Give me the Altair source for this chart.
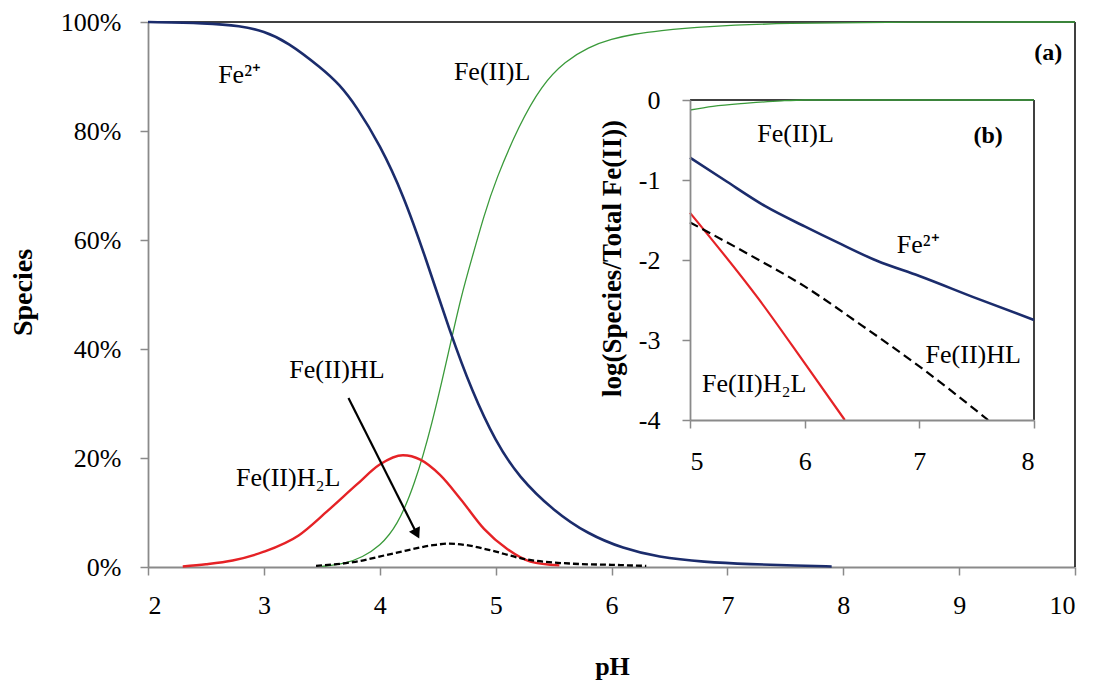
import altair as alt
import pandas as pd

SERIF = "Liberation Serif"
GRAY = "#8a8a8a"
NAVY = "#1b2c6c"
GREEN = "#3a9a3a"
RED = "#e52226"

# ---------------- main chart: % of total Fe(II) vs pH ----------------
ph_fe2 = [2.0, 2.5, 2.8, 3.0, 3.2, 3.5, 3.65, 3.8, 4.0, 4.2, 4.4, 4.6, 4.8, 5.0, 5.2, 5.5, 5.8, 6.1, 6.4, 6.8, 7.2, 7.6, 7.9]
pct_fe2 = [100, 99.8, 99.3, 98.3, 96.4, 91.5, 88.6, 84.5, 77.5, 68.5, 56.5, 43.5, 32.0, 23.0, 16.5, 10.3, 6.0, 3.4, 1.8, 0.9, 0.5, 0.25, 0.1]

ph_l = [3.5, 3.7, 3.85, 4.0, 4.15, 4.3, 4.45, 4.6, 4.7, 4.8, 4.9, 5.0, 5.2, 5.4, 5.6, 5.8, 6.0, 6.2, 6.4, 6.8, 7.5, 8.5, 10.0]
pct_l = [0.1, 0.6, 1.8, 3.8, 7.5, 15.0, 26.0, 40.0, 49.5, 57.0, 64.5, 71.0, 81.0, 88.5, 92.8, 95.4, 96.9, 97.8, 98.4, 99.2, 99.8, 100, 100]

ph_h2l = [2.3, 2.5, 2.73, 3.0, 3.3, 3.55, 3.8, 4.0, 4.2, 4.35, 4.52, 4.7, 4.9, 5.1, 5.3, 5.55]
pct_h2l = [0.1, 0.5, 1.2, 2.8, 5.8, 10.3, 15.1, 18.8, 20.5, 19.7, 16.9, 12.4, 7.0, 3.3, 1.0, 0.3]

ph_hl = [3.45, 3.77, 4.12, 4.46, 4.6, 4.75, 4.95, 5.24, 5.67, 6.0, 6.3]
pct_hl = [0.2, 0.9, 2.5, 4.0, 4.3, 4.0, 3.1, 1.5, 0.6, 0.4, 0.2]

main_x_ticks = [2, 3, 4, 5, 6, 7, 8, 9, 10]
main_y_ticks = [0, 20, 40, 60, 80, 100]

main_labels = ["Fe²⁺", "Fe(II)L", "Fe(II)HL", "Fe(II)H₂L"]
main_label_ph = [2.79, 4.97, 3.63, 3.21]
main_label_pct = [90.3, 90.8, 36.1, 16.3]

arrow_ph = [3.73, 4.32]
arrow_pct = [31.0, 6.1]
arrow_angle = [153]

# ---------------- inset: log(species / total Fe(II)) ----------------
in_ph_fe2 = [5.0, 5.3, 5.66, 6.0, 6.3, 6.63, 7.0, 7.5, 8.0]
in_log_fe2 = [-0.72, -1.0, -1.33, -1.58, -1.79, -2.01, -2.2, -2.48, -2.75]

in_ph_l = [5.0, 5.2, 5.5, 5.8, 6.0, 8.0]
in_log_l = [-0.125, -0.08, -0.04, -0.01, 0.0, 0.0]

in_ph_h2l = [5.0, 5.6, 6.0, 6.35]
in_log_h2l = [-1.41, -2.49, -3.29, -4.0]

in_ph_hl = [5.0, 5.5, 6.0, 6.5, 7.0, 7.6]
in_log_hl = [-1.53, -1.92, -2.33, -2.82, -3.33, -4.0]

in_x_ticks = [5, 6, 7, 8]
in_y_ticks = [-4, -3, -2, -1, 0]

in_labels = ["Fe(II)L", "Fe²⁺", "Fe(II)HL", "Fe(II)H₂L"]
in_label_ph = [5.92, 6.99, 7.47, 5.56]
in_label_log = [-0.43, -1.81, -3.19, -3.55]

# ---------------- scales / axes ----------------
mx = alt.X("ph:Q", scale=alt.Scale(domain=[2, 10], nice=False, zero=False),
           axis=alt.Axis(values=main_x_ticks, grid=False, labelFont=SERIF, labelFontSize=26,
                         labelColor="black", labelPadding=17, tickSize=8, tickColor=GRAY,
                         tickWidth=1.5, domainColor=GRAY, domainWidth=1.8, title="pH",
                         titleFont=SERIF, titleFontSize=26, titleFontWeight="bold",
                         titleColor="black", titleX=464, titleY=99, titleAlign="center",
                         titleBaseline="middle", orient="bottom"))
my = alt.Y("pct:Q", scale=alt.Scale(domain=[0, 100], nice=False),
           axis=alt.Axis(values=main_y_ticks, grid=False, labelExpr="datum.value + '%'",
                         labelFont=SERIF, labelFontSize=26, labelColor="black",
                         labelPadding=19, tickSize=8, tickColor=GRAY, tickWidth=1.5,
                         domainColor=GRAY, domainWidth=1.8, title="Species",
                         titleFont=SERIF, titleFontSize=28, titleFontWeight="bold",
                         titleColor="black", titleAngle=270, titleX=-125, titleY=270,
                         titleAlign="center", titleBaseline="middle", orient="left"))
mx2 = alt.X2("ph2:Q")
my2 = alt.Y2("pct2:Q")

ix = alt.X("ph:Q", scale=alt.Scale(domain=[5, 8], range=[542, 886], nice=False, zero=False),
           axis=alt.Axis(values=in_x_ticks, grid=False, orient="bottom", offset=-147,
                         labelFont=SERIF, labelFontSize=26, labelColor="black",
                         labelPadding=20, tickSize=8, tickColor=GRAY, tickWidth=1.5,
                         domainColor=GRAY, domainWidth=1.8, title=None, zindex=1))
iy = alt.Y("lg:Q", scale=alt.Scale(domain=[-4, 0], range=[398, 78], nice=False, zero=False),
           axis=alt.Axis(values=in_y_ticks, grid=False, orient="left", offset=-542,
                         labelExpr="'' + datum.value",
                         labelFont=SERIF, labelFontSize=26, labelColor="black",
                         labelPadding=22, tickSize=8, tickColor=GRAY, tickWidth=1.5,
                         domainColor=GRAY, domainWidth=1.8,
                         title="log(Species/Total Fe(II))", titleFont=SERIF,
                         titleFontSize=27, titleFontWeight="bold", titleColor="black",
                         titleAngle=270, titleX=-78, titleY=236, titleAlign="center",
                         titleBaseline="middle", zindex=1))
ix2 = alt.X2("ph2:Q")
iy2 = alt.Y2("lg2:Q")


def main_line(ph, pct, color, width, dash=None, interp="monotone"):
    df = pd.DataFrame({"ph": ph, "pct": pct})
    kw = dict(color=color, strokeWidth=width, interpolate=interp)
    if dash:
        kw["strokeDash"] = dash
    return alt.Chart(df).mark_line(**kw).encode(x=mx, y=my)


def inset_line(ph, lg, color, width, dash=None):
    df = pd.DataFrame({"ph": ph, "lg": lg})
    kw = dict(color=color, strokeWidth=width, interpolate="monotone", clip=False)
    if dash:
        kw["strokeDash"] = dash
    return alt.Chart(df).mark_line(**kw).encode(x=ix, y=iy)


# main frame (top and right borders)
frame_top = alt.Chart(pd.DataFrame({"ph": [main_x_ticks[0]], "ph2": [main_x_ticks[-1]],
                                    "pct": [main_y_ticks[-1]]})).mark_rule(
    color="black", strokeWidth=1.5).encode(x=mx, x2=mx2, y=my)
frame_right = alt.Chart(pd.DataFrame({"ph": [main_x_ticks[-1]], "pct": [main_y_ticks[0]],
                                      "pct2": [main_y_ticks[-1]]})).mark_rule(
    color="black", strokeWidth=1.5).encode(x=mx, y=my, y2=my2)

main_text = alt.Chart(pd.DataFrame({"ph": main_label_ph, "pct": main_label_pct,
                                    "t": main_labels})).mark_text(
    font=SERIF, fontSize=26, color="black", align="center", baseline="middle").encode(
    x=mx, y=my, text="t:N")
tag_a = alt.Chart(pd.DataFrame({"ph": [9.77], "pct": [94.3], "t": ["(a)"]})).mark_text(
    font=SERIF, fontSize=24, fontWeight="bold", color="black", align="center",
    baseline="middle").encode(x=mx, y=my, text="t:N")

arrow_line = alt.Chart(pd.DataFrame({"ph": [arrow_ph[0]], "pct": [arrow_pct[0]],
                                     "ph2": [arrow_ph[1]], "pct2": [arrow_pct[1]]})).mark_rule(
    color="black", strokeWidth=2.2).encode(x=mx, y=my, x2=mx2, y2=my2)
arrow_head = alt.Chart(pd.DataFrame({"ph": [arrow_ph[1]], "pct": [arrow_pct[1]]})).mark_point(
    shape="triangle-up", filled=True, color="black", size=150, opacity=1,
    angle=arrow_angle[0]).encode(x=mx, y=my)

main = alt.layer(
    frame_top, frame_right,
    main_line(ph_l, pct_l, GREEN, 1.3, interp="basis"),
    main_line(ph_fe2, pct_fe2, NAVY, 2.6, interp="basis"),
    main_line(ph_h2l, pct_h2l, RED, 2.4),
    main_line(ph_hl, pct_hl, "black", 2.3, [6, 3]),
    main_text, tag_a, arrow_line, arrow_head,
)

# inset
in_bg = alt.Chart(pd.DataFrame({"ph": [in_x_ticks[0]], "ph2": [in_x_ticks[-1]],
                                "lg": [in_y_ticks[0]], "lg2": [in_y_ticks[-1]]})).mark_rect(
    color="white").encode(x=ix, x2=ix2, y=iy, y2=iy2)
in_top = alt.Chart(pd.DataFrame({"ph": [in_x_ticks[0]], "ph2": [in_x_ticks[-1]],
                                 "lg": [in_y_ticks[-1]]})).mark_rule(
    color="black", strokeWidth=1.5).encode(x=ix, x2=ix2, y=iy)
in_right = alt.Chart(pd.DataFrame({"ph": [in_x_ticks[-1]], "lg": [in_y_ticks[0]],
                                   "lg2": [in_y_ticks[-1]]})).mark_rule(
    color="black", strokeWidth=1.5).encode(x=ix, y=iy, y2=iy2)
in_text = alt.Chart(pd.DataFrame({"ph": in_label_ph, "lg": in_label_log,
                                  "t": in_labels})).mark_text(
    font=SERIF, fontSize=26, color="black", align="center", baseline="middle").encode(
    x=ix, y=iy, text="t:N")
tag_b = alt.Chart(pd.DataFrame({"ph": [7.6], "lg": [-0.45], "t": ["(b)"]})).mark_text(
    font=SERIF, fontSize=24, fontWeight="bold", color="black", align="center",
    baseline="middle").encode(x=ix, y=iy, text="t:N")

inset = alt.layer(
    in_bg, in_top, in_right,
    inset_line(in_ph_l, in_log_l, GREEN, 1.3),
    inset_line(in_ph_fe2, in_log_fe2, NAVY, 2.6),
    inset_line(in_ph_h2l, in_log_h2l, RED, 2.2),
    inset_line(in_ph_hl, in_log_hl, "black", 2.2, [9, 5]),
    in_text, tag_b,
)

chart = alt.layer(main, inset).resolve_scale(x="independent", y="independent").properties(
    width=927, height=545,
    autosize=alt.AutoSizeParams(type="none"),
    padding={"left": 148, "top": 22, "right": 18, "bottom": 114},
    background="white",
).configure_view(stroke=None)

chart.save("out.html", embed_options={"renderer": "svg", "actions": False})
